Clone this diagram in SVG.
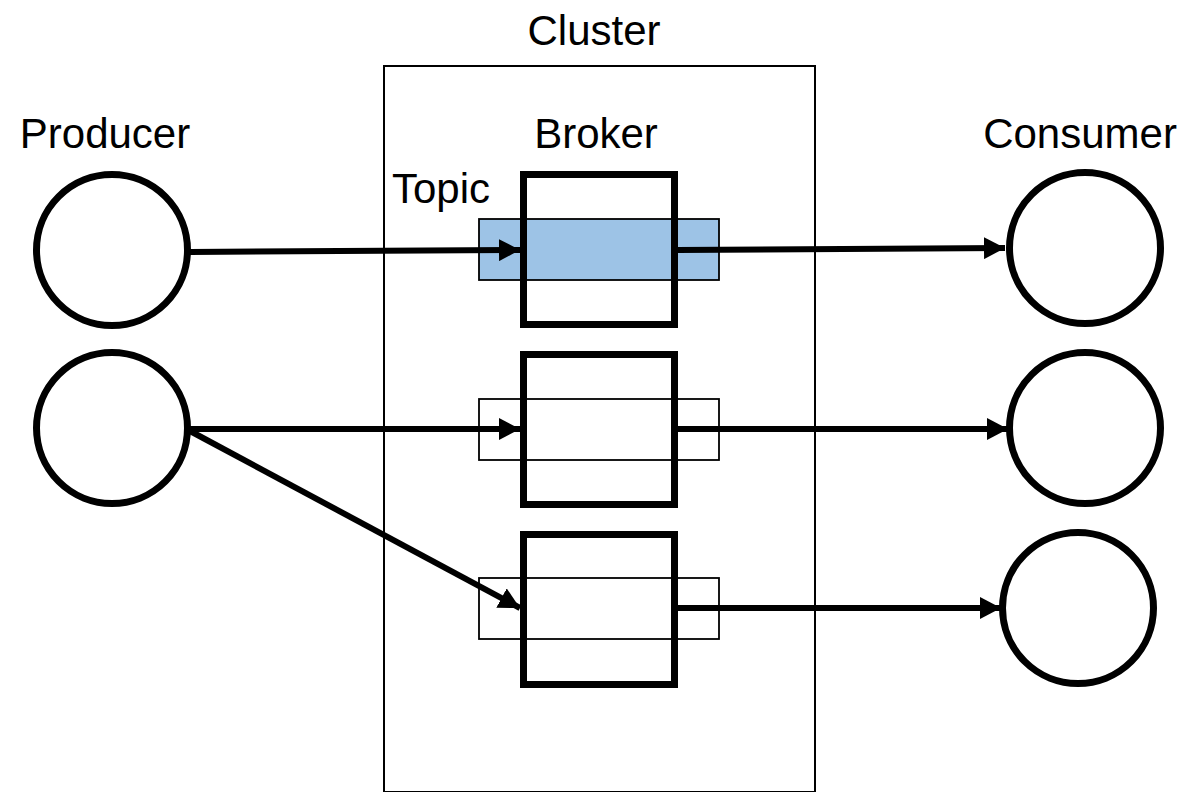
<svg xmlns="http://www.w3.org/2000/svg" width="1189" height="792" viewBox="0 0 1189 792">
<defs>
<style>
.lbl{font-family:"Liberation Sans","Open Sans",sans-serif;font-size:42px;fill:#000}
.circ{fill:#fff;stroke:#000;stroke-width:7}
.broker{fill:none;stroke:#000;stroke-width:7}
.topic{stroke:#000;stroke-width:1.8}
.conn{stroke:#000;stroke-width:6;fill:none}
</style>
<marker id="ah" viewBox="0 0 21 22" refX="21" refY="11" markerWidth="21" markerHeight="22" markerUnits="userSpaceOnUse" orient="auto">
<path d="M0,0 L21,11 L0,22 Z" fill="#000"/>
</marker>
</defs>
<rect width="1189" height="792" fill="#fff"/>
<g id="cluster">
<rect x="384" y="66" width="431" height="726" fill="none" stroke="#000" stroke-width="2"/>
<text class="lbl" x="594" y="45" text-anchor="middle">Cluster</text>
</g>
<g id="topic1"><rect class="topic" x="479" y="219" width="240" height="61" fill="#9DC3E6"/></g>
<g id="topic2"><rect class="topic" x="479" y="399" width="240" height="61" fill="none"/></g>
<g id="topic3"><rect class="topic" x="479" y="578" width="240" height="61" fill="none"/></g>
<text class="lbl" x="392" y="203">Topic</text>
<g id="broker1"><rect class="broker" x="523.5" y="174.5" width="151" height="150"/>
<text class="lbl" x="596" y="148" text-anchor="middle">Broker</text></g>
<g id="broker2"><rect class="broker" x="523.5" y="354.5" width="151" height="150"/></g>
<g id="broker3"><rect class="broker" x="523.5" y="534.5" width="151" height="150"/></g>
<g id="producer1"><circle class="circ" cx="112" cy="250" r="75.5"/>
<text class="lbl" x="105" y="148" text-anchor="middle">Producer</text></g>
<g id="producer2"><circle class="circ" cx="112" cy="428" r="75.5"/></g>
<g id="consumer1"><circle class="circ" cx="1085" cy="248" r="75.5"/>
<text class="lbl" x="1080" y="148" text-anchor="middle">Consumer</text></g>
<g id="consumer2"><circle class="circ" cx="1085" cy="428" r="75.5"/></g>
<g id="consumer3"><circle class="circ" cx="1078" cy="608" r="75.5"/></g>
<g id="connectors">
<line class="conn" x1="190" y1="252" x2="520" y2="250" marker-end="url(#ah)"/>
<line class="conn" x1="678" y1="250" x2="1005" y2="248" marker-end="url(#ah)"/>
<line class="conn" x1="190" y1="429" x2="520" y2="429" marker-end="url(#ah)"/>
<line class="conn" x1="678" y1="429" x2="1008" y2="429" marker-end="url(#ah)"/>
<line class="conn" x1="190" y1="431" x2="520" y2="608" marker-end="url(#ah)"/>
<line class="conn" x1="678" y1="608" x2="1001" y2="608" marker-end="url(#ah)"/>
</g>
</svg>
